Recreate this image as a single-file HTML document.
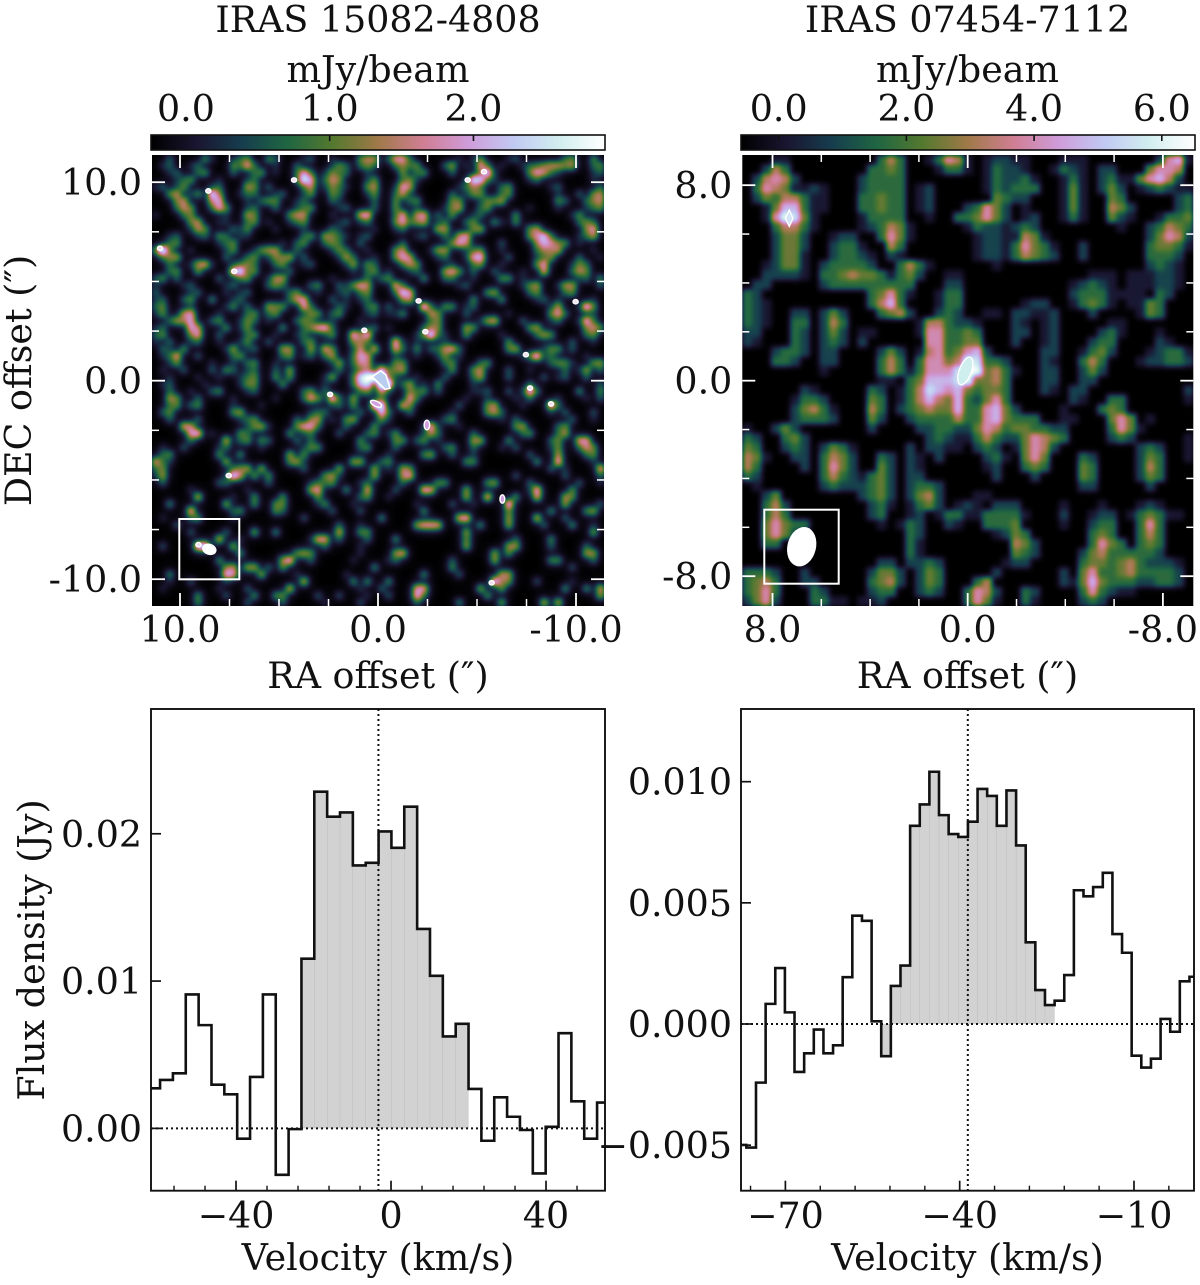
<!DOCTYPE html>
<html lang="en">
<head>
<meta charset="utf-8">
<title>IRAS 15082-4808 and IRAS 07454-7112</title>
<style>
html,body{margin:0;padding:0;background:#fff;}
svg{display:block;}
text{font-family:"DejaVu Serif","Liberation Serif",serif;font-size:36.4px;fill:#111;}
</style>
</head>
<body>
<svg id="figure" xmlns="http://www.w3.org/2000/svg" width="1200" height="1285" viewBox="0 0 1200 1285">
<defs>
<filter id="blurA" x="-5%" y="-5%" width="110%" height="110%" color-interpolation-filters="sRGB">
<feGaussianBlur in="SourceGraphic" stdDeviation="2.8" result="a"/>
<feGaussianBlur in="SourceGraphic" stdDeviation="6" result="b"/>
<feComposite in="a" in2="b" operator="arithmetic" k1="0" k2="0.88" k3="0.85" k4="0" result="c"/>
<feComponentTransfer in="c"><feFuncR class="tableR" type="table"/><feFuncG class="tableG" type="table"/><feFuncB class="tableB" type="table"/></feComponentTransfer>
</filter>
<filter id="blurB" x="-5%" y="-5%" width="110%" height="110%" color-interpolation-filters="sRGB">
<feGaussianBlur in="SourceGraphic" stdDeviation="2.6" result="a"/>
<feGaussianBlur in="SourceGraphic" stdDeviation="6" result="b"/>
<feComposite in="a" in2="b" operator="arithmetic" k1="0" k2="1" k3="0.08" k4="0" result="c"/>
<feComponentTransfer in="c"><feFuncR class="tableR" type="table"/><feFuncG class="tableG" type="table"/><feFuncB class="tableB" type="table"/></feComponentTransfer>
</filter>
<clipPath id="clipMapA"><rect x="152" y="155" width="452" height="451"/></clipPath>
<clipPath id="clipMapB"><rect x="742.3" y="155" width="451" height="451"/></clipPath>
<clipPath id="clipSpecA"><rect x="151" y="709" width="454" height="481.7"/></clipPath>
<clipPath id="clipSpecB"><rect x="741" y="709" width="453" height="481.7"/></clipPath>
<linearGradient id="cbGrad" x1="0" x2="1" y1="0" y2="0"></linearGradient>
</defs>
<text x="378" y="32" text-anchor="middle">IRAS 15082-4808</text>
<text x="967.5" y="32" text-anchor="middle">IRAS 07454-7112</text>
<text x="378" y="82" text-anchor="middle">mJy/beam</text>
<text x="967.5" y="82" text-anchor="middle">mJy/beam</text>
<text x="378" y="688" text-anchor="middle">RA offset (″)</text>
<text x="967.5" y="688" text-anchor="middle">RA offset (″)</text>
<text transform="translate(31,380.5) rotate(-90)" text-anchor="middle">DEC offset (″)</text>
<text transform="translate(44,950) rotate(-90)" text-anchor="middle">Flux density (Jy)</text>
<text x="378" y="1270" text-anchor="middle">Velocity (km/s)</text>
<text x="967.5" y="1270" text-anchor="middle">Velocity (km/s)</text>
<g id="layer"></g>
</svg>
<script>
/* spectrum data, left panel */
const velocityA = [-61.26,-57.94,-54.63,-51.31,-47.99,-44.67,-41.36,-38.04,-34.72,-31.41,-28.09,-24.77,-21.46,-18.14,-14.82,-11.51,-8.19,-4.87,-1.55,1.76,5.08,8.40,11.71,15.03,18.35,21.66,24.98,28.30,31.61,34.93,38.25,41.57,44.88,48.20,51.52,54.83];
const fluxA = [.00272,.00329,.00374,.00909,.00701,.00297,.00231,-.00070,.00349,.00909,-.00315,-.00005,.01152,.02286,.02116,.02145,.01785,.01803,.02016,.01905,.02184,.01354,.01036,.00624,.00710,.00268,-.00084,.00211,.00079,-.00011,-.00306,.00011,.00646,.00184,-.00070,.00175];
const shadedRangeA = [12,24];
const systemicA = -3.25;
const xTickValuesA = [-40,0,40];
const xTickLabelsA = ["−40","0","40"];
const xMinorTicksA = [-56,-48,-32,-24,-16,-8,8,16,24,32,48];
const yTickValuesA = [0,0.01,0.02];
const yTickLabelsA = ["0.00","0.01","0.02"];

/* spectrum data, right panel */
const velocityB = [-77.55,-75.89,-74.23,-72.57,-70.91,-69.26,-67.60,-65.94,-64.28,-62.62,-60.97,-59.31,-57.65,-55.99,-54.33,-52.68,-51.02,-49.36,-47.70,-46.04,-44.39,-42.73,-41.07,-39.41,-37.75,-36.10,-34.44,-32.78,-31.12,-29.46,-27.81,-26.15,-24.49,-22.83,-21.17,-19.52,-17.86,-16.20,-14.54,-12.88,-11.23,-9.57,-7.91,-6.25,-4.59,-2.94,-1.28,0.38];
const fluxB = [-.00499,-.00510,-.00242,.00083,.00231,.00048,-.00198,-.00121,-.00023,-.00121,-.00088,.00193,.00447,.00426,.00011,-.00133,.00157,.00241,.00818,.00906,.01041,.00862,.00784,.00772,.00835,.00970,.00941,.00818,.00964,.00737,.00337,.00140,.00078,.00096,.00202,.00552,.00527,.00565,.00624,.00371,.00294,-.00131,-.00180,-.00143,.00021,-.00032,.00176,.00195];
const shadedRangeB = [15,32];
const systemicB = -38.6;
const xTickValuesB = [-70,-40,-10];
const xTickLabelsB = ["−70","−40","−10"];
const xMinorTicksB = [-76,-64,-58,-52,-46,-34,-28,-22,-16,-4];
const yTickValuesB = [-0.005,0,0.005,0.010];
const yTickLabelsB = ["−0.005","0.000","0.005","0.010"];

/* map axes */
const mapTickValuesA = [10,0,-10];
const mapTickLabelsA = ["10.0","0.0","-10.0"];
const mapMinorTicksA = [7.5,5,2.5,-2.5,-5,-7.5];
const mapTickValuesB = [8,0,-8];
const mapTickLabelsB = ["8.0","0.0","-8.0"];
const mapMinorTicksB = [6,4,2,-2,-4,-6];
const cbTickValuesA = [0,1,2];
const cbTickLabelsA = ["0.0","1.0","2.0"];
const cbTickValuesB = [0,2,4,6];
const cbTickLabelsB = ["0.0","2.0","4.0","6.0"];
const cbRangeA = [-0.243,2.915];
const cbRangeB = [-0.59,6.52];

/* heat map levels in tenths of the colour scale; a = top of scale, z = eight empty cells, y = five empty cells */
const heatRowsA = [
"00200003 10012300 32000120 01000344 02552000 00010130 00120000 00230030",
"01200120 00032520 01002000 01320232 00232300 02401052 01001223 44340023",
"00120023 00020023 01002520 13220010 00030230 00200027 10000354 21000012",
"00012300 01000120 00002750 24300013 00023100 00001762 10000120 00000010",
"12013000 12000430 20000240 13210034 00154000 00012320 02300000 12000002",
"00340130 73001220 01200130 03200013 00241000 00201330 02300000 01002034",
"00034000 45000102 33001200 02100002 00302300 00330013 34000000 03200234",
"00024300 25300120 02001230 00120002 00300100 01340023 00000100 01000123",
"10002300 00100430 00034400 01000560 00250450 20300120 00030000 00013000",
"00000340 01100230 10012300 00120120 00352340 12002300 31030000 00002320",
"00000143 00021300 01000100 02100001 00120000 44000340 00000340 00000350",
"00120012 03201100 00000230 43210120 00000120 02045000 00000346 20001240",
"00230000 01230000 00102300 23200200 00020000 00354000 02000035 43301000",
"39200100 00130013 44002000 01320010 00340001 44001230 01000023 34000010",
"02340000 00200230 13340200 00142001 00354000 12001560 00200012 30002001",
"00200145 10012320 02300120 00014032 00024300 00100230 01000035 00013200",
"00230030 00067230 00020000 00001023 01001200 04530200 20001005 00024300",
"23020000 02002300 14400000 01000020 23000030 02200100 03301000 00001203",
"10001200 00120000 23200023 00213540 00520000 00012000 00001340 01440002",
"20000120 00101200 00023001 00120230 00265000 00000003 40000230 00230000",
"12002300 30012000 00024500 02010120 00034000 00000300 03000012 01000010",
"23000100 00130200 43300520 00210023 02000072 03301200 z 14001730",
"13004500 01000230 23000133 02300012 01130004 30002000 00100000 35200010",
"00243500 23001320 10002320 01000100 00000002 30000014 50002000 12001620",
"12000540 00301300 00300235 62000012 01000023 30004300 00000340 00000343",
"23000350 02000230 01001200 13006360 00000137 21003000 01000024 30000230",
"10200120 01001300 20000230 00003320 00610100 01000000 00300000 00020010",
"02103000 00140120 00440040 53001405 00520302 24520000 00340001 33020000",
"01250020 00023000 00230120 24002540 00100100 13010000 00001371 20000100",
"00130000 10010230 01000000 01402440 00330000 02300023 z 23310034",
"01002000 20320120 02040000 00201230 62340000 00300340 00200100 00201402",
"00100010 01001230 03030000 14002678 82100100 02000240 00200002 01200200",
"01200001 00001330 00300000 10002560 98024010 30000100 00000200 00000002",
"00200100 23000120 00000230 20000230 41003230 20000112 00201720 00003003",
"00430020 00010000 01000253 07204000 20005200 00001001 00010200 01000102",
"00230230 00010001 z 01203007 70053000 00020003 40001000 72000000",
"02300000 00034000 00000012 20000200 62002000 00100003 42000000 10200020",
"00200020 00001230 00002034 01034000 31000000 02300000 01020000 00020010",
"00005400 00000134 10003552 00020003 00000016 10010000 00034000 02300000",
"00000560 10003200 00030120 00200023 01300014 20000200 00002300 02400000",
"00000200 00502303 20002020 00000300 00330230 10000440 00300000 23005500",
"01002000 01200001 00000133 00000230 00200000 02300200 01020000 13002430",
"02300000 03003000 00040300 z 01000034 00200100 00000200 04000230",
"52100000 00400000 00034100 00004400 23000000 00003300 00000030 06000010",
"23000000 00023404 00000200 00400004 01043000 z z 20100006",
"14000000 00174030 30000000 34100004 00045000 z 00020000 00200002",
"02000000 02200000 20000012 23000120 00020000 33000003 40000200 00002001",
"00000100 00000100 00000045 00030050 00200065 00004000 00000160 00030000",
"00000050 00010030 00300003 00000230 01000000 00004006 00030050 00430000",
"00300000 00400030 03300001 30001000 00000100 00200100 00700000 00400002",
"00000600 00023000 03200000 02000200 00000030 z 00300000 30000340",
"01000230 00010000 00000200 z 30000000 00056000 00400050 00200000",
"00020000 z z 00200100 00000455 50000030 00400002 00030010",
"00000200 00200040 03000000 00500330 z 00004000 z 00000040",
"z 05001000 00000015 50200020 00300000 00003000 00020000 30000000",
"02000078 00040000 z 20000100 z 00004000 00440000 20000200",
"z 00003000 00003430 00000100 00450000 z 40300000 00000440",
"z 03000000 00460020 00001000 01200000 00200000 40000000 33000020",
"z 00340440 20300000 00000003 z 00300000 z 00020000",
"00300000 00650004 00001000 00010000 00000030 00020000 04400000 z",
"00100200 00100000 00000500 00003030 03000000 z 73300020 00010000",
"01000000 01000200 00050000 00000100 20000550 00000040 03000000 00300305",
"00000030 00200030 03300002 00200010 02000620 00000003 z 00000004",
"00000030 00000200 00200000 10000200 00000200 00030000 04000005 05000000"
];
const heatRowsB = [
"00011 y 00003 53001 36510 12211 00011 10000 00026 71",
"00253 y 00033 43000 13310 13221 00132 10220 00466 50",
"02565 20000 00233 33000 y 13223 10013 10231 14675 20",
"03654 11210 00233 33012 y 13233 30014 10242 01232 11",
"02435 53110 00334 33012 y 04322 00014 10043 y 23",
"00147 73110 00334 33012 00023 64201 00014 10054 20000 23",
"00169 84100 00133 33001 00334 64201 20013 10042 10013 34",
"00035 53100 00123 54100 00013 22123 20000 00001 00235 43",
"00024 42001 22003 64100 00001 22115 41000 y 00246 52",
"00024 42002 33100 53000 00001 22136 43100 20000 00344 31",
"00024 41002 33210 21000 00001 22135 43200 20000 00333 20",
"00124 41023 33320 03531 y 01000 y y 00232 10",
"00222 21033 45443 13420 01100 y y 01110 11122 10",
"02200 00023 33333 33300 02200 y 00001 23210 11122 10",
"32000 y 00034 63100 13300 y 00002 33311 11032 00",
"32100 y 00035 73000 13300 00001 22001 34310 11430 00",
"32100 22024 20003 45200 23200 11022 11200 02000 01430 00",
"32100 33025 30000 00015 53221 00021 01200 00011 y 00",
"22000 32024 20110 00016 63343 00022 01200 00231 00010 00",
"21000 32023 20200 00006 63344 00020 01200 02330 00021 00",
"00023 32022 00002 42015 63467 20000 02200 13420 00123 31",
"00033 20022 00003 53036 64598 33200 02100 35300 01223 32",
"y 00010 00003 53136 668a9 45310 02200 24200 y 00",
"y y 00001 10347 77894 45300 02200 22000 y 00",
"y 02100 00032 01358 76743 44300 02102 20000 y 02",
"y 13320 00043 01357 54732 46300 00002 10033 y 01",
"y 24531 00053 02345 44733 67420 00010 00343 y 00",
"y 23332 00042 00233 33533 67433 30011 00046 40100 00",
"10024 20000 00020 00022 33224 65344 33220 00036 41000 00",
"32003 42000 y 00002 32113 53224 65430 00023 20000 01",
"43002 32024 31000 00202 21102 32014 65200 y 02320 01",
"54100 22035 42003 20210 20000 23104 64000 32000 02430 01",
"53000 02036 42004 20210 y 12003 43000 43000 02530 00",
"32000 00035 32134 20220 y 02000 20000 43000 02430 00",
"01000 00023 22234 20233 20000 y y 22000 00200 00",
"00240 y 00234 20245 20001 10000 y y y 00",
"00352 y 00023 10134 20121 02220 00010 00100 01210 00",
"00353 y 00023 00120 13311 33331 00020 01220 13431 10",
"00464 33000 00001 01320 02100 33340 00010 02330 03630 00",
"00464 20000 y 00320 y 01243 y 03430 03530 00",
"00330 y y 00310 y 00054 20000 03643 03430 00",
"y y y 00310 y 00043 20000 24533 33320 00",
"y y 00002 20223 20000 00122 y 34434 53222 10",
"33320 02000 00024 42024 30000 02000 00020 46334 53333 20",
"34530 02200 00034 52024 30003 50000 00021 47433 32233 20",
"34630 00320 00023 30023 20036 52003 20000 36321 10000 00",
"24620 00331 10112 y 00036 41003 10000 23200 y 00"
];

const spotRaA = [11.01,7.26,8.57,4.24,-5.35,-4.53,-2.05,-9.98,0.69,-2.39,-7.47,-7.68,-8.74,2.42,7.54,-5.74,9.07];
const spotDecA = [6.67,5.51,9.56,10.11,10.53,10.11,4.02,3.98,2.54,2.47,1.31,-0.37,-1.17,-0.69,-4.78,-10.18,-8.26];
const contourMainRaA = [0.29,-0.14,-0.40,-0.61,-0.35,-0.02];
const contourMainDecA = [0.20,0.50,0.29,-0.38,-0.43,-0.10];
const contourLobeRaA = [0.10,-2.47,-6.28];
const contourLobeDecA = [-1.16,-2.23,-5.96];

const cubehelixStops = ["#000000","#1a1530","#163d4e","#1f6642","#54792f","#a07949","#d07e93","#cf9cda","#c1caf3","#d2eeef","#ffffff"];

/* helpers */
const NS = "http://www.w3.org/2000/svg";
const layer = document.getElementById("layer");
function linear(d0, d1, r0, r1) { return v => r0 + (v - d0) * (r1 - r0) / (d1 - d0); }
function make(tag, attrs, parent) {
  const n = document.createElementNS(NS, tag);
  for (const k in attrs) n.setAttribute(k, attrs[k]);
  parent.appendChild(n);
  return n;
}
function group(parent, name) {
  const g = make("g", {}, parent);
  
  
  return g;
}
function tick(parent, x1, y1, x2, y2, color, width, name) {
  const l = make("line", {x1, y1, x2, y2, stroke: color, "stroke-width": width}, parent);
  
  
  return l;
}
function label(parent, x, y, anchor, str, name) {
  const t = make("text", {x, y, "text-anchor": anchor}, parent);
  t.textContent = str;
  
  
  return t;
}
function hexToRgb(h) { return [1, 3, 5].map(i => parseInt(h.substr(i, 2), 16)); }
const grad = document.getElementById("cbGrad");
cubehelixStops.forEach((c, i) => {
  make("stop", {offset: i / (cubehelixStops.length - 1), "stop-color": c}, grad);
});
/* the filters smooth the level field, then apply the colour map to it */
["tableR", "tableG", "tableB"].forEach((cls, ch) => {
  const values = cubehelixStops.map(c => (hexToRgb(c)[ch] / 255).toFixed(4)).join(" ");
  document.querySelectorAll("." + cls).forEach(f => f.setAttribute("tableValues", values));
});
function levelGray(level) {
  const v = Math.round(level * 25.5);
  return "rgb(" + v + "," + v + "," + v + ")";
}
function expandRow(r) {
  return r.replace(/ /g, "").replace(/z/g, "00000000").replace(/y/g, "00000");
}

/* map panel */
function drawMap(o) {
  const g = group(layer, o.name);
  const X = linear(o.raDomain[0], o.raDomain[1], o.left, o.right);
  const Y = linear(o.decDomain[0], o.decDomain[1], o.top, o.bottom);
  const clip = make("g", {"clip-path": "url(#" + o.clip + ")"}, g);
  
  
  const field = make("g", {filter: "url(#" + o.blur + ")"}, clip);
  
  
  const bg = make("rect", {x: o.left - 10, y: o.top - 10, width: o.right - o.left + 20, height: o.bottom - o.top + 20, fill: "#000"}, field);
  
  
  const rows = o.rows.map(expandRow);
  const nRow = rows.length;
  rows.forEach((row, r) => {
    const nCol = row.length;
    for (let c = 0; c < nCol; c++) {
      const level = parseInt(row[c], 16);
      if (!level) continue;
      const ra0 = o.raDomain[0] + (o.raDomain[1] - o.raDomain[0]) * c / nCol;
      const ra1 = o.raDomain[0] + (o.raDomain[1] - o.raDomain[0]) * (c + 1) / nCol;
      const de0 = o.decDomain[0] + (o.decDomain[1] - o.decDomain[0]) * r / nRow;
      const de1 = o.decDomain[0] + (o.decDomain[1] - o.decDomain[0]) * (r + 1) / nRow;
      const cell = make("rect", {x: X(ra0), y: Y(de0), width: X(ra1) - X(ra0) + 0.4, height: Y(de1) - Y(de0) + 0.4, fill: levelGray(level)}, field);
      
      
    }
  });
  if (o.overlay) o.overlay(clip, X, Y);
  const ticks = group(g, o.name + "-ticks");
  o.majors.forEach(v => {
    tick(ticks, X(v), o.top, X(v), o.top + 13, "#fff", 1.8, "map-tick-top");
    tick(ticks, X(v), o.bottom, X(v), o.bottom - 13, "#fff", 1.8, "map-tick-bottom");
    tick(ticks, o.left, Y(v), o.left + 13, Y(v), "#fff", 1.8, "map-tick-left");
    tick(ticks, o.right, Y(v), o.right - 13, Y(v), "#fff", 1.8, "map-tick-right");
  });
  o.minors.forEach(v => {
    tick(ticks, X(v), o.top, X(v), o.top + 7, "#fff", 1.5, "map-minor-tick-top");
    tick(ticks, X(v), o.bottom, X(v), o.bottom - 7, "#fff", 1.5, "map-minor-tick-bottom");
    tick(ticks, o.left, Y(v), o.left + 7, Y(v), "#fff", 1.5, "map-minor-tick-left");
    tick(ticks, o.right, Y(v), o.right - 7, Y(v), "#fff", 1.5, "map-minor-tick-right");
  });
  o.majors.forEach((v, i) => {
    label(g, X(v), 642, "middle", o.labels[i], "map-x-tick-label");
    label(g, o.left - 10, Y(v) + 13, "end", o.labels[i], "map-y-tick-label");
  });
  const box = make("rect", {x: o.box[0], y: o.box[1], width: o.box[2], height: o.box[3], fill: "none", stroke: "#fff", "stroke-width": 2}, g);
  
  
  const beam = make("ellipse", {cx: o.beam[0], cy: o.beam[1], rx: o.beam[2], ry: o.beam[3], fill: "#fff", transform: "rotate(" + o.beam[4] + " " + o.beam[0] + " " + o.beam[1] + ")"}, g);
  
  
  const cb = group(g, o.name + "-colorbar");
  const bar = make("rect", {x: o.cb[0], y: 135, width: o.cb[1] - o.cb[0], height: 15, fill: "url(#cbGrad)", stroke: "#111", "stroke-width": 1.6}, cb);
  
  
  const CX = linear(o.cbRange[0], o.cbRange[1], o.cb[0], o.cb[1]);
  o.cbTicks.forEach((v, i) => {
    tick(cb, CX(v), 135, CX(v), 141, "#111", 1.6, "colorbar-tick");
    label(cb, CX(v), 121, "middle", o.cbLabels[i], "colorbar-tick-label");
  });
}

drawMap({
  name: "map-iras-15082", clip: "clipMapA", blur: "blurA",
  left: 152, right: 604, top: 155, bottom: 606,
  raDomain: [11.414, -11.414], decDomain: [11.37, -11.35],
  rows: heatRowsA, majors: mapTickValuesA, labels: mapTickLabelsA, minors: mapMinorTicksA,
  box: [179.3, 519, 60, 60.3], beam: [209.3, 549.3, 7.4, 5.6, 18],
  cb: [151, 605], cbRange: cbRangeA, cbTicks: cbTickValuesA, cbLabels: cbTickLabelsA,
  overlay: function (parent, X, Y) {
    spotRaA.forEach((ra, i) => {
      const s = make("ellipse", {cx: X(ra), cy: Y(spotDecA[i]), rx: 2.6, ry: 2.2, fill: "#f0dff0", stroke: "#fff", "stroke-width": 1.4}, parent);
      
      
    });
    contourLobeRaA.forEach((ra, i) => {
      const rotations = [25, 0, 0];
      const rx = [6, 2.8, 2.4];
      const ry = [2.6, 4.8, 4.2];
      const cx = X(ra), cy = Y(contourLobeDecA[i]);
      const s = make("ellipse", {cx, cy, rx: rx[i], ry: ry[i], fill: "#d2a2e0", stroke: "#fff", "stroke-width": 1.4, transform: "rotate(" + rotations[i] + " " + cx + " " + cy + ")"}, parent);
      
      
    });
    const pts = contourMainRaA.map((ra, i) => X(ra) + "," + Y(contourMainDecA[i])).join(" ");
    const main = make("polygon", {points: pts, fill: "#b9cdf0", stroke: "#fff", "stroke-width": 1.6, "stroke-linejoin": "round"}, parent);
    
    
  }
});

drawMap({
  name: "map-iras-07454", clip: "clipMapB", blur: "blurB",
  left: 742.3, right: 1193.3, top: 155, bottom: 606,
  raDomain: [9.238, -9.246], decDomain: [9.235, -9.22],
  rows: heatRowsB, majors: mapTickValuesB, labels: mapTickLabelsB, minors: mapMinorTicksB,
  box: [764.3, 509.7, 74.4, 74], beam: [801.7, 546.7, 14.3, 20, 14],
  cb: [741, 1195], cbRange: cbRangeB, cbTicks: cbTickValuesB, cbLabels: cbTickLabelsB,
  overlay: function (parent, X, Y) {
    const a = make("polygon", {points: "789.3,210 793,218.5 789.3,226.5 785.5,218.5", fill: "#d4e4f4", stroke: "#fff", "stroke-width": 1.3}, parent);
    
    
    const b = make("ellipse", {cx: 965.3, cy: 371, rx: 6, ry: 14.5, fill: "#cfeeee", stroke: "#fff", "stroke-width": 1.4, transform: "rotate(20 965.3 371)"}, parent);
    
    
  }
});

/* spectrum panel */
function drawSpectrum(o) {
  const g = group(layer, o.name);
  const X = linear(o.xDomain[0], o.xDomain[1], o.left, o.right);
  const Y = linear(o.yDomain[0], o.yDomain[1], o.bottom, o.top);
  const plot = make("g", {"clip-path": "url(#" + o.clip + ")"}, g);
  
  
  const edge = i => {
    if (i <= 0) return o.vel[0] - (o.vel[1] - o.vel[0]) / 2;
    if (i >= o.vel.length) return o.vel[o.vel.length - 1] + (o.vel[o.vel.length - 1] - o.vel[o.vel.length - 2]) / 2;
    return (o.vel[i - 1] + o.vel[i]) / 2;
  };
  for (let i = o.shaded[0]; i <= o.shaded[1]; i++) {
    const y0 = Y(0), y1 = Y(o.flux[i]);
    const seg = make("rect", {x: X(edge(i)) - 0.15, y: Math.min(y0, y1), width: X(edge(i + 1)) - X(edge(i)) + 0.3, height: Math.abs(y0 - y1), fill: "#000", "fill-opacity": 0.175}, plot);
    
    
  }
  const h = tick(plot, o.left, Y(0), o.right, Y(0), "#111", 2, "zero-flux-line");
  h.setAttribute("stroke-dasharray", "2 3");
  const v = tick(plot, X(o.systemic), o.top, X(o.systemic), o.bottom, "#111", 2, "systemic-velocity-line");
  v.setAttribute("stroke-dasharray", "2 3");
  let d = "M" + X(edge(0)) + " " + Y(o.flux[0]);
  o.flux.forEach((f, i) => {
    d += "L" + X(edge(i)) + " " + Y(f) + "L" + X(edge(i + 1)) + " " + Y(f);
  });
  const line = make("path", {d, fill: "none", stroke: "#111", "stroke-width": 2.6, "stroke-linejoin": "miter"}, plot);
  
  
  const frame = make("rect", {x: o.left, y: o.top, width: o.right - o.left, height: o.bottom - o.top, fill: "none", stroke: "#111", "stroke-width": 1.9}, g);
  
  
  o.xTicks.forEach((t, i) => {
    tick(g, X(t), o.bottom, X(t), o.bottom - 10, "#111", 1.7, "x-tick");
    label(g, X(t), 1228, "middle", o.xLabels[i], "x-tick-label");
  });
  o.xMinor.forEach(t => {
    tick(g, X(t), o.bottom, X(t), o.bottom - 5, "#111", 1.4, "x-minor-tick");
  });
  o.yTicks.forEach((t, i) => {
    tick(g, o.left, Y(t), o.left + 10, Y(t), "#111", 1.7, "y-tick");
    label(g, o.left - 9, Y(t) + 13, "end", o.yLabels[i], "y-tick-label");
  });
}

drawSpectrum({
  name: "spectrum-iras-15082", clip: "clipSpecA",
  left: 151, right: 605, top: 709, bottom: 1190.7,
  xDomain: [-61.94, 55.22], yDomain: [-0.00423, 0.02847],
  vel: velocityA, flux: fluxA, shaded: shadedRangeA, systemic: systemicA,
  xTicks: xTickValuesA, xLabels: xTickLabelsA, xMinor: xMinorTicksA,
  yTicks: yTickValuesA, yLabels: yTickLabelsA
});
drawSpectrum({
  name: "spectrum-iras-07454", clip: "clipSpecB",
  left: 741, right: 1194, top: 709, bottom: 1190.7,
  xDomain: [-77.64, 0.33], yDomain: [-0.00688, 0.01300],
  vel: velocityB, flux: fluxB, shaded: shadedRangeB, systemic: systemicB,
  xTicks: xTickValuesB, xLabels: xTickLabelsB, xMinor: xMinorTicksB,
  yTicks: yTickValuesB, yLabels: yTickLabelsB
});
</script>
</body>
</html>
